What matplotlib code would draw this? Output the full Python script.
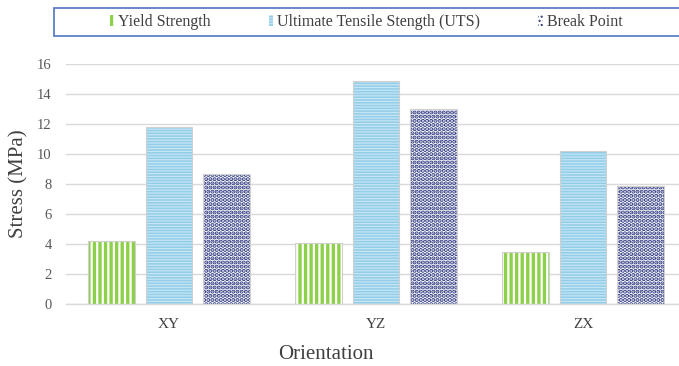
import matplotlib
matplotlib.use("Agg")
import matplotlib.pyplot as plt
from matplotlib.patches import Patch, Rectangle
import numpy as np

orientations = ["XY", "YZ", "ZX"]
yield_strength = [4.2, 4.1, 3.45]
uts = [11.8, 14.9, 10.2]
break_point = [8.7, 13.0, 7.9]
series_names = ["Yield Strength", "Ultimate Tensile Stength (UTS)", "Break Point"]
y_ticks = [0, 2, 4, 6, 8, 10, 12, 14, 16]

SERIF = ["Liberation Serif", "DejaVu Serif"]
GREEN = "#8dd04a"
BLUE = "#93cde8"
BLUE_LINE = "#c4e6f5"
NAVY = "#2b3580"

W, H = 679, 366
fig = plt.figure(figsize=(W / 100, H / 100), dpi=100)
ax = fig.add_axes([65.5 / W, 62 / H, 621 / W, 240 / H])

x = np.arange(len(orientations))
bw = 0.227
off = 0.278

# each series gets its own fill pattern
styles = [
    dict(face=GREEN, hatch_col="white", hatch="|||", hlw=1.6),
    dict(face=BLUE, hatch_col=BLUE_LINE, hatch="------", hlw=0.9),
    dict(face="white", hatch_col=NAVY, hatch="....", hlw=2.1),
]
for i, (vals, st) in enumerate(zip([yield_strength, uts, break_point], styles)):
    with plt.rc_context({"hatch.linewidth": st["hlw"]}):
        ax.bar(x + (i - 1) * off, vals, width=bw, color=st["face"],
               edgecolor=st["hatch_col"], linewidth=0, hatch=st["hatch"], zorder=2)
    ax.bar(x + (i - 1) * off, vals, width=bw, fill=False,
           edgecolor="#d0d0d0", linewidth=0.8, zorder=3)

ax.set_xlim(-0.5, 2.5)
ax.set_ylim(0, 16)
ax.set_yticks(y_ticks)
ax.set_yticklabels([str(t) for t in y_ticks], family=SERIF, fontsize=10.5, color="#595959")
ax.set_xticks(x)
ax.set_xticklabels(orientations, family=SERIF, fontsize=11, color="#404040")
ax.tick_params(axis="both", length=0)
ax.tick_params(axis="y", pad=10)
ax.tick_params(axis="x", pad=10)
ax.grid(axis="y", color="#d9d9d9", linewidth=1.0, zorder=0)
ax.set_axisbelow(True)
for s in ["top", "right", "left"]:
    ax.spines[s].set_visible(False)
ax.spines["bottom"].set_color("#d9d9d9")
ax.spines["bottom"].set_linewidth(1.0)

ax.set_ylabel("Stress (MPa)", family=SERIF, fontsize=15, color="#404040")
ax.yaxis.set_label_coords(-0.059, 0.5)
ax.set_xlabel("Orientation", family=SERIF, fontsize=15, color="#404040")
ax.xaxis.set_label_coords(0.419, -0.17)

# legend box across the top
fig.patches.append(Rectangle((54 / W, 1 - 36 / H), 640 / W, 28 / H,
                             transform=fig.transFigure, facecolor="white",
                             edgecolor="#5b7fc7", linewidth=1.3, zorder=0))
handles = []
for name, st in zip(series_names, styles):
    handles.append(Patch(facecolor=st["face"], edgecolor=st["hatch_col"],
                         hatch=st["hatch"], linewidth=0, label=name))
leg = fig.legend(handles=handles, loc="center", bbox_to_anchor=(366 / W, 1 - 22 / H),
                 ncol=3, frameon=False, handlelength=0.3, handleheight=0.65,
                 handletextpad=0.25, columnspacing=3.6,
                 prop={"family": SERIF, "size": 11.5})
for t in leg.get_texts():
    t.set_color("#404040")

fig.savefig("out.png", dpi=100)
